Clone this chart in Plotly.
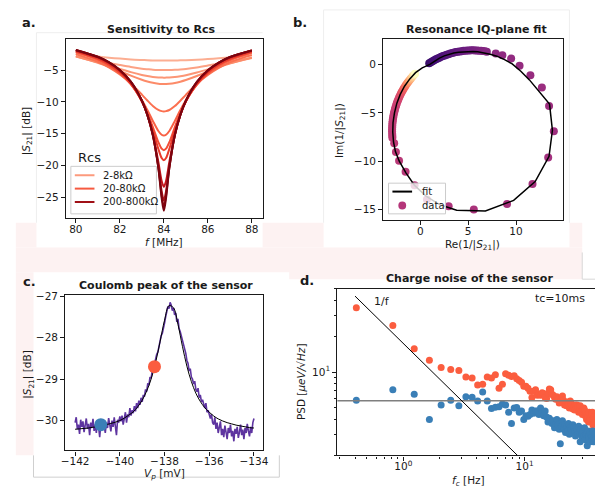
import plotly.graph_objects as go

W, H = 601, 491
def X(p): return p / W
def Y(p): return 1 - p / H

# ---------------- Panel a: Sensitivity to Rcs ----------------
freq_a = [80, 81, 81.5, 82, 82.5, 83, 83.25, 83.5, 83.75, 83.9, 84,
          84.1, 84.25, 84.5, 84.75, 85, 85.5, 86, 86.5, 87, 88]
s21_rcs = [
    [-2.45, -2.88, -3.06, -3.20, -3.33, -3.42, -3.46, -3.49, -3.50, -3.51, -3.51, -3.51, -3.51, -3.50, -3.48, -3.45, -3.38, -3.28, -3.16, -3.02, -2.72],
    [-2.80, -3.52, -3.88, -4.21, -4.52, -4.78, -4.87, -4.95, -4.99, -5.00, -5.00, -5.00, -5.00, -4.96, -4.90, -4.82, -4.59, -4.30, -3.99, -3.66, -3.05],
    [-2.88, -3.79, -4.30, -4.82, -5.33, -5.77, -5.95, -6.09, -6.17, -6.19, -6.20, -6.19, -6.18, -6.10, -5.97, -5.81, -5.39, -4.90, -4.40, -3.92, -3.10],
    [-2.85, -3.88, -4.50, -5.17, -5.88, -6.53, -6.80, -7.01, -7.14, -7.18, -7.19, -7.18, -7.15, -7.03, -6.83, -6.57, -5.94, -5.25, -4.58, -3.99, -3.05],
    [-2.50, -3.70, -4.57, -5.69, -7.11, -8.86, -9.79, -10.64, -11.27, -11.46, -11.50, -11.46, -11.28, -10.66, -9.82, -8.90, -7.17, -5.76, -4.65, -3.79, -2.62],
    [-2.22, -3.41, -4.31, -5.54, -7.26, -9.71, -11.27, -13.00, -14.58, -15.17, -15.29, -15.17, -14.58, -13.01, -11.29, -9.74, -7.31, -5.60, -4.37, -3.48, -2.31],
    [-2.11, -3.26, -4.15, -5.40, -7.19, -9.89, -11.72, -13.96, -16.34, -17.36, -17.59, -17.36, -16.34, -13.97, -11.74, -9.92, -7.24, -5.45, -4.20, -3.32, -2.18],
    [-2.04, -3.17, -4.06, -5.31, -7.13, -9.92, -11.89, -14.42, -17.39, -18.83, -19.17, -18.83, -17.39, -14.43, -11.91, -9.95, -7.18, -5.36, -4.11, -3.23, -2.11],
    [-1.92, -3.01, -3.87, -5.11, -6.95, -9.88, -12.05, -15.07, -19.44, -22.43, -23.35, -22.43, -19.44, -15.08, -12.07, -9.91, -7.00, -5.16, -3.92, -3.05, -1.98],
    [-1.88, -2.95, -3.80, -5.03, -6.87, -9.83, -12.05, -15.20, -20.09, -24.05, -25.51, -24.05, -20.09, -15.21, -12.07, -9.86, -6.92, -5.08, -3.85, -2.99, -1.94],
    [-1.86, -2.93, -3.78, -5.00, -6.84, -9.80, -12.04, -15.23, -20.31, -24.71, -26.50, -24.71, -20.31, -15.24, -12.06, -9.83, -6.89, -5.05, -3.83, -2.97, -1.92],
    [-1.85, -2.92, -3.77, -4.99, -6.82, -9.78, -12.03, -15.25, -20.42, -25.11, -27.13, -25.11, -20.42, -15.26, -12.05, -9.81, -6.87, -5.04, -3.82, -2.96, -1.91],
]
rcs_colors = ["#fcae92", "#fca285", "#fc9676", "#fc8b69",
              "#fb7050", "#f86044", "#f24d37", "#e83b2b",
              "#c4161c", "#ae1117", "#960b13", "#7a040f"]
legend_a_names = ["2-8kΩ", "20-80kΩ", "200-800kΩ"]
legend_a_colors = ["#fc9a7d", "#f65a40", "#a01016"]

# ---------------- Panel b: IQ-plane ----------------
iq_re = [0.93, 1.10, 1.27, 1.45, 1.63, 1.81, 1.99, 2.18, 2.37, 2.56, 2.75, 2.94, 3.13, 3.33, 3.53, 3.72,
         3.92, 4.12, 4.32, 4.52, 4.73, 4.93, 5.13, 5.33, 5.54, 5.74, 5.94, 6.14, 6.35, 6.55, 6.75, 6.95,
         7.88, 8.57, 9.49, 10.37, 11.50, 12.70, 13.45, 13.95, 13.36, 11.72, 9.06, 5.59, 2.96, 0.69, -0.60,
         -1.54, -2.22, -2.55, -2.73,
         -2.92, -2.93, -2.94, -2.95, -2.95, -2.94, -2.93, -2.92, -2.89, -2.87, -2.83, -2.80, -2.75, -2.70,
         -2.65, -2.59, -2.52, -2.46, -2.38, -2.30, -2.22, -2.13, -2.03, -1.94, -1.83, -1.73, -1.61, -1.50,
         -1.37, -1.25, -1.11, -0.98, -0.84, -0.70, -0.55]
iq_im = [0.11, 0.22, 0.32, 0.42, 0.52, 0.61, 0.70, 0.78, 0.86, 0.93, 1.00, 1.06, 1.12, 1.17, 1.22, 1.27,
         1.31, 1.34, 1.37, 1.40, 1.42, 1.43, 1.44, 1.45, 1.45, 1.44, 1.44, 1.42, 1.40, 1.38, 1.35, 1.31,
         1.12, 0.95, 0.60, -0.13, -1.13, -2.39, -4.30, -6.90, -9.61, -12.35, -14.42, -15.00, -14.65, -13.95, -12.47,
         -11.08, -9.95, -9.05, -8.15,
         -7.58, -7.36, -7.16, -6.94, -6.73, -6.51, -6.31, -6.09, -5.88, -5.67, -5.45, -5.25, -5.03, -4.83,
         -4.62, -4.42, -4.21, -4.02, -3.81, -3.62, -3.42, -3.23, -3.04, -2.85, -2.66, -2.49, -2.30, -2.13,
         -1.95, -1.78, -1.61, -1.45, -1.28, -1.13, -0.97]
iq_segments = [32, 19, 35]   # top arc, sparse resonance points, left arc
fit_re = [1.0, 1.5, 2.0, 2.5, 3.0, 3.5, 4.0, 4.5, 5.0, 5.5, 6.0, 6.6, 7.3, 8.0, 8.8, 9.6, 10.5, 11.4,
          12.5, 13.5, 13.8, 13.45, 12.0, 9.75, 6.8, 3.8, 2.05, 0.6, -0.6, -1.5, -2.2, -2.6, -2.8, -2.88,
          -2.85, -2.7, -2.45, -2.1, -1.65, -1.1, -0.5, 0.2, 1.0]
fit_im = [0.0, 0.35, 0.65, 0.88, 1.05, 1.17, 1.25, 1.3, 1.32, 1.33, 1.3, 1.22, 1.05, 0.85, 0.5, 0.05, -0.7, -1.6,
          -2.9, -4.1, -6.8, -9.5, -12.1, -14.05, -15.15, -15.07, -14.5, -13.6, -12.5, -11.2, -10.0, -9.0, -8.0, -7.0,
          -6.0, -5.0, -4.0, -3.1, -2.25, -1.5, -0.85, -0.35, 0.0]

# ---------------- Panel c: Coulomb peak ----------------
vp_start, vp_step = -142.0, 0.05
s21_peak = [
    -30.05, -29.92, -30.21, -30.10, -30.32, -29.98, -30.15, -30.02, -30.28, -30.12, -29.95, -30.20, -30.08, -30.35, -30.05, -30.18, -29.96, -30.25, -30.10, -30.30, -30.02,
    -30.14, -30.40, -30.08, -29.98, -30.22, -30.12, -30.30, -30.05, -30.18, -29.94, -30.10, -30.26, -30.00, -30.15, -29.92, -30.08, -30.35, -29.98, -30.05, -29.90,
    -30.02, -29.88, -30.10, -29.95, -29.80, -30.05, -29.85, -29.92, -29.70, -29.88, -29.75, -29.82, -29.65, -29.78, -29.58, -29.70, -29.52, -29.62, -29.45, -29.55,
    -29.38, -29.42, -29.25, -29.30, -29.10, -29.15, -28.95, -28.98, -28.80, -28.75, -28.62, -28.55, -28.40, -28.35, -28.18, -28.12, -27.95, -27.90, -27.72, -27.65,
    -27.50, -27.38, -27.25, -27.30, -27.15, -27.22, -27.35, -27.28, -27.45, -27.40, -27.62, -27.55, -27.78, -27.85, -27.95, -28.05, -28.15, -28.30, -28.38, -28.55,
    -28.62, -28.80, -28.75, -28.95, -29.00, -29.12, -29.05, -29.25, -29.30, -29.22, -29.45, -29.38, -29.55, -29.50, -29.62, -29.70, -29.58, -29.80, -29.75, -29.88,
    -29.95, -29.85, -30.05, -30.10, -29.92, -30.20, -30.05, -30.30, -30.15, -30.02, -30.35, -30.20, -30.40, -30.12, -30.28, -30.45, -30.18, -30.30, -30.10, -30.38,
    -30.25, -30.50, -30.20, -30.32, -30.15, -30.42, -30.28, -30.10, -30.35, -30.22, -30.45, -30.18, -30.30, -30.08, -30.25, -30.38, -30.15, -30.30, -30.05, -29.95,
]
vp = [round(vp_start + vp_step * i, 2) for i in range(len(s21_peak))]
fit_vp = [-142.0, -141.8, -141.6, -141.4, -141.2, -141.0, -140.8, -140.6, -140.4, -140.2, -140.0,
          -139.8, -139.6, -139.4, -139.2, -139.0, -138.8, -138.6, -138.4, -138.2, -138.0,
          -137.8, -137.6, -137.4, -137.2, -137.0, -136.8, -136.6, -136.4, -136.2, -136.0,
          -135.8, -135.6, -135.4, -135.2, -135.0, -134.8, -134.6, -134.4, -134.2, -134.0]
fit_s21 = [-30.21, -30.20, -30.19, -30.18, -30.16, -30.15, -30.13, -30.10, -30.07, -30.04, -30.00,
           -29.94, -29.87, -29.79, -29.67, -29.51, -29.29, -29.00, -28.60, -28.10, -27.58,
           -27.23, -27.28, -27.68, -28.21, -28.69, -29.06, -29.34, -29.54, -29.69, -29.80,
           -29.89, -29.96, -30.01, -30.05, -30.08, -30.11, -30.13, -30.15, -30.17, -30.18]
op_vp = [-138.45, -140.85]
op_s21 = [-28.70, -30.10]
op_colors = ["#fb5d3f", "#3a7fb7"]

# ---------------- Panel d: Charge noise ----------------
freq_d = [round(0.41 * k, 2) for k in range(1, 94)]
psd_red = [34.8, 24.6, 15.7, 12.6, 10.9, 10.5, 10.3, 9.1, 8.9, 7.8,
           7.9, 9.1, 8.9, 9.5, 7.3, 7.9, 9.7, 9.4, 9.2, 9.3,
           8.8, 8.5, 8.2, 7.6, 7.6, 7.3, 6.9, 6.1, 6.9, 7.1,
           6.4, 6.5, 6.4, 6.7, 6.6, 6.1, 6.0, 6.6, 7.2, 7.1,
           6.5, 6.4, 6.1, 5.9, 6.2, 5.9, 5.5, 5.6, 5.9, 6.3,
           5.8, 5.3, 5.5, 5.2, 5.6, 5.4, 5.0, 5.7, 5.5, 5.3,
           4.9, 5.1, 4.8, 5.3, 5.0, 5.3, 5.1, 4.6, 4.8, 5.2,
           4.6, 4.7, 4.4, 4.9, 5.0, 4.8, 4.3, 4.5, 4.0, 4.4,
           4.2, 3.8, 4.6, 3.9, 4.1, 3.2, 4.4, 4.6, 3.6, 4.2,
           3.8, 4.0, 3.7]
psd_blue = [5.8, 7.1, 6.5, 4.0, 5.3, 5.8, 5.2, 6.2, 6.15, 5.7,
            6.8, 5.7, 4.95, 5.07, 5.1, 5.4, 5.3, 4.6, 3.7, 5.0,
            5.05, 4.6, 4.7, 4.0, 4.3, 4.25, 4.4, 4.8, 4.5, 4.7,
            4.7, 4.4, 5.0, 4.6, 4.3, 4.7, 4.2, 3.8, 4.1, 3.9,
            3.7, 3.9, 3.4, 3.7, 4.0, 3.6, 3.3, 2.5, 3.5, 3.9,
            3.3, 3.6, 3.1, 3.5, 3.2, 3.7, 3.0, 3.4, 3.3, 3.1,
            3.6, 3.4, 3.2, 2.9, 3.4, 3.3, 3.0, 3.5, 3.1, 2.6,
            3.3, 3.0, 2.8, 3.2, 2.9, 3.4, 2.7, 3.0, 3.1, 2.4,
            3.2, 2.8, 2.9, 3.1, 2.6, 3.0, 2.8, 2.9, 3.2, 2.6,
            2.8, 3.0, 2.7]
onef_x = [0.40, 10.0]
onef_y = [43.5, 1.74]
floor_x = [0.28, 40.0]
floor_y = [5.73, 5.73]

INK = "#1a1a1a"
FONT = "DejaVu Sans"
RED = "#fb5d3f"
BLUE = "#3a7fb7"

fig = go.Figure()

# Panel a traces
for vals, col in zip(s21_rcs, rcs_colors):
    fig.add_trace(go.Scatter(x=freq_a, y=vals, mode="lines",
                             line=dict(color=col, width=2, shape="spline", smoothing=0.8),
                             hoverinfo="skip", xaxis="x", yaxis="y"))

# Panel b traces: colour along the sweep (magma)
n_top, n_mid, n_left = iq_segments
cvals = ([0.20 + 0.18 * i / (n_top - 1) for i in range(n_top)] +
         [0.40 + 0.12 * i / (n_mid - 1) for i in range(n_mid)] +
         [0.52 + 0.48 * (i / (n_left - 1)) ** 4 for i in range(n_left)])
fig.add_trace(go.Scatter(x=iq_re, y=iq_im, mode="markers",
                         marker=dict(size=8, color=cvals, colorscale="Magma", cmin=0, cmax=1),
                         xaxis="x2", yaxis="y2"))
fig.add_trace(go.Scatter(x=fit_re, y=fit_im, mode="lines", name="fit",
                         line=dict(color="black", width=1.5), xaxis="x2", yaxis="y2"))

# Panel c traces
fig.add_trace(go.Scatter(x=vp, y=s21_peak, mode="lines",
                         line=dict(color="#5e34a0", width=1.6), xaxis="x3", yaxis="y3"))
fig.add_trace(go.Scatter(x=fit_vp, y=fit_s21, mode="lines",
                         line=dict(color="black", width=1, shape="spline"),
                         xaxis="x3", yaxis="y3"))
fig.add_trace(go.Scatter(x=op_vp, y=op_s21, mode="markers",
                         marker=dict(size=13, color=op_colors), xaxis="x3", yaxis="y3"))

# Panel d traces
fig.add_trace(go.Scatter(x=freq_d, y=psd_red, mode="markers",
                         marker=dict(size=7, color=RED), xaxis="x4", yaxis="y4"))
fig.add_trace(go.Scatter(x=freq_d, y=psd_blue, mode="markers",
                         marker=dict(size=7, color=BLUE), xaxis="x4", yaxis="y4"))
fig.add_trace(go.Scatter(x=floor_x, y=floor_y, mode="lines",
                         line=dict(color="#7f7f7f", width=1.5), xaxis="x4", yaxis="y4"))
fig.add_trace(go.Scatter(x=onef_x, y=onef_y, mode="lines",
                         line=dict(color="black", width=1), xaxis="x4", yaxis="y4"))


def axis(domain, rng, anchor, **kw):
    d = dict(domain=domain, range=rng, anchor=anchor, showline=True, linecolor=INK,
             linewidth=1.3, mirror=True, ticks="outside", ticklen=4, tickwidth=1,
             tickcolor=INK, showgrid=False, zeroline=False,
             tickfont=dict(size=10.5, color=INK, family=FONT))
    d.update(kw)
    return d

minor_x = dict(ticks="outside", ticklen=2.5, tickcolor=INK, showgrid=False,
               tickvals=[0.3, 0.4, 0.5, 0.6, 0.7, 0.8, 0.9, 2, 3, 4, 5, 6, 7, 8, 9, 20, 30])
minor_y = dict(ticks="outside", ticklen=2.5, tickcolor=INK, showgrid=False,
               tickvals=[2, 3, 4, 5, 6, 7, 8, 9, 20, 30, 40, 50])

fig.update_layout(
    width=W, height=H, margin=dict(l=0, r=0, t=0, b=0),
    paper_bgcolor="white", plot_bgcolor="white", showlegend=False,
    font=dict(family=FONT, color=INK, size=10.5),
    xaxis=axis([X(63), X(263)], [79.55, 88.49], "y", tickvals=[80, 82, 84, 86, 88],
               ticklabelstandoff=-3),
    yaxis=axis([Y(215), Y(34)], [-28.22, -0.07], "x", tickvals=[-5, -10, -15, -20, -25]),
    xaxis2=axis([X(385.7), X(568)], [-3.87, 14.86], "y2", tickvals=[0, 5, 10],
                ticklabelstandoff=-3),
    yaxis2=axis([Y(217), Y(34)], [-16.05, 2.66], "x2", tickvals=[0, -5, -10, -15]),
    xaxis3=axis([X(62.3), X(263.3)], [-142.44, -133.6], "y3",
                tickvals=[-142, -140, -138, -136, -134], ticklabelstandoff=-3),
    yaxis3=axis([Y(450), Y(293.3)], [-30.72, -26.98], "x3", tickvals=[-27, -28, -29, -30]),
    xaxis4=axis([X(339), 1.0], [-0.5436, 1.58], "y4", type="log", tickvals=[1, 10],
                ticktext=["10<sup>0</sup>", "10<sup>1</sup>"], minor=minor_x,
                ticklabelstandoff=-3),
    yaxis4=axis([Y(455), Y(286.7)], [0.3, 1.7], "x4", type="log", tickvals=[10],
                ticktext=["10<sup>1</sup>"], minor=minor_y, mirror=False),
)

# ---------- background artefacts of the composite figure ----------
PINK = "#fdf2f2"
pink_rects = [(12, 245, 588, 270), (12, 220, 33, 245), (263, 220, 325, 245),
              (575, 220, 588, 245), (12, 270, 30, 455), (290, 250, 588, 277)]
shapes = []
for x0, y0, x1, y1 in pink_rects:
    shapes.append(dict(type="rect", xref="paper", yref="paper", x0=X(x0), x1=X(x1),
                       y0=Y(y1), y1=Y(y0), fillcolor=PINK, line=dict(width=0), layer="below"))
grey_lines = [(30, 455, 30, 477, "#cfcfcf"), (30, 477, 280, 477, "#cfcfcf"),
              (280, 455, 280, 477, "#cfcfcf"), (588, 250, 588, 277, "#d8d8d8"),
              (588, 277, 601, 277, "#d8d8d8"), (325, 5, 325, 220, "#eeeeee"),
              (575, 5, 575, 220, "#eeeeee"), (325, 5, 575, 5, "#eeeeee"),
              (33, 28, 33, 220, "#eeeeee"), (33, 28, 263, 28, "#eeeeee")]
for x0, y0, x1, y1, c in grey_lines:
    shapes.append(dict(type="line", xref="paper", yref="paper", x0=X(x0), x1=X(x1),
                       y0=Y(y0), y1=Y(y1), line=dict(color=c, width=1), layer="below"))

# ---------- legends (drawn as boxes so that they sit exactly where the reference has them) ----------
def box(x0, y0, x1, y1, fill):
    shapes.append(dict(type="rect", xref="paper", yref="paper", x0=X(x0), x1=X(x1),
                       y0=Y(y1), y1=Y(y0), fillcolor=fill,
                       line=dict(color="#cccccc", width=1), layer="above"))

def swatch_line(x0, x1, y, color):
    shapes.append(dict(type="line", xref="paper", yref="paper", x0=X(x0), x1=X(x1),
                       y0=Y(y), y1=Y(y), line=dict(color=color, width=2), layer="above"))

box(68, 163, 155, 211, "white")
legend_a_y = [172, 185.5, 199]
for yy, col in zip(legend_a_y, legend_a_colors):
    swatch_line(72, 92, yy, col)

box(391, 180, 449, 211, "rgba(255,255,255,0.8)")
swatch_line(395, 415, 188.5, "black")
shapes.append(dict(type="circle", xref="paper", yref="paper", x0=X(401), x1=X(409),
                   y0=Y(206.5), y1=Y(198.5), fillcolor="#b5367a", line=dict(width=0),
                   layer="above"))
fig.update_layout(shapes=shapes)

def note(text, x, y, size=10.5, bold=False, angle=0, xanchor="center", color=INK):
    if bold:
        text = "<b>" + text + "</b>"
    fig.add_annotation(text=text, x=X(x), y=Y(y), xref="paper", yref="paper",
                       showarrow=False, textangle=angle, xanchor=xanchor, yanchor="middle",
                       font=dict(size=size, family=FONT, color=color))

for name, yy in zip(legend_a_names, legend_a_y):
    note(name, 99, yy, size=10, xanchor="left")
note("fit", 423, 188.5, size=10, xanchor="left")
note("data", 423, 202.5, size=10, xanchor="left")
note("Rcs", 73, 154, size=13, xanchor="left")

# panel labels
note("a.", 16, 18, size=13, bold=True, xanchor="left")
note("b.", 292, 18, size=13, bold=True, xanchor="left")
note("c.", 17, 279, size=13, bold=True, xanchor="left")
note("d.", 299, 278, size=13, bold=True, xanchor="left")
# titles
note("Sensitivity to Rcs", 160, 25, size=11, bold=True)
note("Resonance IQ-plane fit", 480, 25, size=11, bold=True)
note("Coulomb peak of the sensor", 165, 283, size=11, bold=True)
note("Charge noise of the sensor", 473, 276, size=11, bold=True)
# axis titles
note("<i>f</i> [MHz]", 163, 239)
note("|<i>S</i><sub>21</sub>| [dB]", 23, 127, angle=-90)
note("Re(1/|<i>S</i><sub>21</sub>|)", 476, 242)
note("Im(1/|<i>S</i><sub>21</sub>|)", 341, 127, angle=-90)
note("<i>V<sub>p</sub></i> [mV]", 163, 474)
note("|<i>S</i><sub>21</sub>| [dB]", 25, 373, angle=-90)
note("<i>f<sub>c</sub></i> [Hz]", 472, 481)
note("PSD [<i>μeV/√Hz</i>]", 302, 380, angle=-90)
# panel d notes
note("1/f", 374, 300, size=11, xanchor="left")
note("tc=10ms", 593, 297, size=11, xanchor="right")

fig.write_html("out.html", config={"displayModeBar": False},
               post_script="document.body.style.margin='0px';document.body.style.padding='0px';")
